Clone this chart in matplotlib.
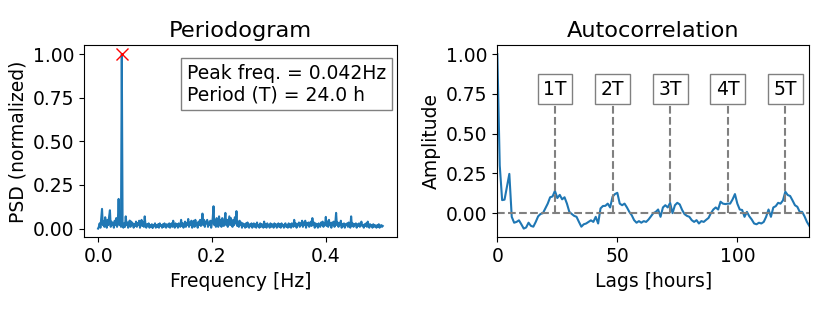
import numpy as np
import matplotlib.pyplot as plt

plt.rcParams['font.size'] = 13.5
plt.rcParams['axes.titlesize'] = 16.2

# periodogram, 720 hourly samples -> freqs k/720 (k = 0..360)
n_samples = 720
psd = [0.0,
       0.01, 0.03, 0.005, 0.06, 0.113, 0.02, 0.04, 0.01, 0.065, 0.03,
       0.005, 0.05, 0.02, 0.07, 0.105, 0.01, 0.04, 0.02, 0.03, 0.005,
       0.045, 0.02, 0.06, 0.01, 0.04, 0.17, 0.02, 0.05, 0.01, 1.0,
       0.02, 0.005, 0.03, 0.01, 0.07, 0.02, 0.035, 0.005, 0.03, 0.046,
       0.01, 0.04, 0.02, 0.03, 0.005, 0.025, 0.015, 0.04, 0.01, 0.03,
       0.02, 0.045, 0.005, 0.03, 0.05, 0.015, 0.035, 0.01, 0.07, 0.02,
       0.005, 0.025, 0.015, 0.03, 0.005, 0.02, 0.01, 0.025, 0.003, 0.02,
       0.015, 0.03, 0.005, 0.02, 0.01, 0.025, 0.005, 0.03, 0.015, 0.02,
       0.005, 0.025, 0.01, 0.03, 0.015, 0.005, 0.025, 0.02, 0.01, 0.03,
       0.005, 0.02, 0.03, 0.01, 0.045, 0.02, 0.005, 0.03, 0.015, 0.025,
       0.005, 0.03, 0.02, 0.01, 0.05, 0.015, 0.03, 0.005, 0.025, 0.04,
       0.01, 0.03, 0.02, 0.055, 0.01, 0.035, 0.02, 0.045, 0.005, 0.03,
       0.045, 0.01, 0.05, 0.02, 0.03, 0.005, 0.04, 0.02, 0.05, 0.015,
       0.03, 0.086, 0.02, 0.05, 0.01, 0.04, 0.03, 0.05, 0.01, 0.035,
       0.02, 0.045, 0.005, 0.03, 0.06, 0.128, 0.02, 0.05, 0.01, 0.06,
       0.03, 0.01, 0.07, 0.02, 0.05, 0.01, 0.06, 0.03, 0.015, 0.045,
       0.09, 0.02, 0.05, 0.01, 0.04, 0.07, 0.02, 0.06, 0.03, 0.01,
       0.05, 0.02, 0.065, 0.03, 0.1, 0.015, 0.04, 0.01, 0.045, 0.02,
       0.035, 0.005, 0.03, 0.015, 0.025, 0.005, 0.03, 0.01, 0.035, 0.02,
       0.005, 0.025, 0.015, 0.03, 0.005, 0.02, 0.03, 0.01, 0.025, 0.005,
       0.035, 0.015, 0.02, 0.005, 0.03, 0.01, 0.025, 0.02, 0.005, 0.04,
       0.01, 0.025, 0.005, 0.03, 0.015, 0.02, 0.005, 0.03, 0.01, 0.025,
       0.02, 0.005, 0.03, 0.015, 0.025, 0.005, 0.02, 0.03, 0.01, 0.025,
       0.005, 0.03, 0.015, 0.02, 0.005, 0.025, 0.03, 0.01, 0.02, 0.005,
       0.03, 0.01, 0.025, 0.005, 0.03, 0.02, 0.01, 0.05, 0.015, 0.03,
       0.005, 0.025, 0.02, 0.035, 0.01, 0.03, 0.02, 0.045, 0.01, 0.035,
       0.02, 0.045, 0.005, 0.03, 0.02, 0.035, 0.01, 0.025, 0.04, 0.015,
       0.06, 0.02, 0.035, 0.005, 0.03, 0.015, 0.025, 0.005, 0.03, 0.02,
       0.01, 0.035, 0.02, 0.04, 0.01, 0.03, 0.02, 0.067, 0.015, 0.04,
       0.01, 0.05, 0.02, 0.03, 0.005, 0.035, 0.02, 0.04, 0.01, 0.03,
       0.09, 0.02, 0.035, 0.01, 0.03, 0.02, 0.045, 0.005, 0.025, 0.015,
       0.03, 0.005, 0.025, 0.02, 0.03, 0.01, 0.035, 0.02, 0.005, 0.07,
       0.015, 0.03, 0.01, 0.025, 0.02, 0.03, 0.005, 0.025, 0.015, 0.03,
       0.01, 0.025, 0.04, 0.015, 0.02, 0.005, 0.025, 0.015, 0.03, 0.01,
       0.04, 0.02, 0.005, 0.025, 0.015, 0.02, 0.005, 0.025, 0.01, 0.02,
       0.015, 0.005, 0.02, 0.01, 0.025, 0.005, 0.015, 0.02, 0.01, 0.015]
freqs = np.arange(len(psd)) / n_samples

peak_freq = 0.042
period_h = 24.0

# autocorrelation, lags 0..130
acf = [1.0, 0.30, 0.082, 0.085, 0.167, 0.247, -0.023, -0.06, -0.055, -0.045,
       -0.07, -0.097, -0.09, -0.06, -0.08, -0.085, -0.055, -0.02, -0.005, 0.0,
       0.03, 0.06, 0.10, 0.105, 0.14, 0.095, 0.115, 0.087, 0.10, 0.06,
       0.008, -0.005, -0.017, -0.023, -0.055, -0.085, -0.07, -0.065, -0.055, -0.045,
       -0.055, -0.023, -0.065, 0.03, 0.045, 0.046, 0.06, 0.036, 0.103, 0.12,
       0.128, 0.06, 0.05, 0.06, 0.036, 0.008, -0.013, -0.044, -0.06, -0.05,
       -0.06, -0.05, -0.055, -0.04, -0.02, 0.0, 0.008, 0.023, -0.023, 0.036,
       0.05, 0.036, 0.065, 0.0, 0.05, 0.065, 0.055, 0.02, -0.006, -0.017,
       -0.023, -0.044, -0.055, -0.044, -0.065, -0.05, -0.055, -0.042, -0.03, 0.0,
       0.023, 0.036, 0.023, 0.072, 0.06, 0.057, 0.06, 0.06, 0.086, 0.12,
       0.06, 0.023, 0.02, -0.023, 0.008, -0.02, -0.04, -0.065, -0.07, -0.06,
       -0.065, -0.055, -0.023, 0.023, -0.023, 0.036, 0.044, 0.065, 0.06, 0.08,
       0.135, 0.114, 0.108, 0.08, 0.05, 0.04, 0.008, 0.008, -0.02, -0.055,
       -0.08]
lags = np.arange(len(acf))
multiples = [1, 2, 3, 4, 5]

fig = plt.figure(figsize=(8.3, 3.12), dpi=100)
ax1 = fig.add_axes([0.101, 0.2394, 0.3773, 0.615])
ax2 = fig.add_axes([0.5992, 0.2394, 0.3759, 0.615])

ax1.plot(freqs, psd, color='#1f77b4', lw=1.5)
ipk = int(np.argmax(psd))
ax1.plot(freqs[ipk], psd[ipk], 'x', color='red', ms=8)
ax1.set_title("Periodogram")
ax1.set_xlabel("Frequency [Hz]")
ax1.set_ylabel("PSD (normalized)")
ax1.set_xticks([0.0, 0.2, 0.4])
ax1.set_yticks([0.0, 0.25, 0.5, 0.75, 1.0])
ax1.text(0.965, 0.905, "Peak freq. = %.3fHz\nPeriod (T) = %.1f h" % (peak_freq, period_h),
         transform=ax1.transAxes, ha='right', va='top', multialignment='left',
         bbox=dict(boxstyle='square,pad=0.3', facecolor='white', edgecolor='gray'))

ax2.plot(lags, acf, color='#1f77b4', lw=1.5)
ax2.axhline(0, color='gray', ls='--', lw=1.5)
for m in multiples:
    lag = m * period_h
    ax2.plot([lag, lag], [0, 0.78], color='gray', ls='--', lw=1.5)
    ax2.text(lag, 0.78, "%dT" % m, ha='center', va='center',
             bbox=dict(boxstyle='square,pad=0.3', facecolor='white', edgecolor='gray'))
ax2.set_xlim(0, 130)
ax2.set_title("Autocorrelation")
ax2.set_xlabel("Lags [hours]")
ax2.set_ylabel("Amplitude")
ax2.set_xticks([0, 50, 100])
ax2.set_yticks([0.0, 0.25, 0.5, 0.75, 1.0])

plt.savefig("out.png", dpi=100)
